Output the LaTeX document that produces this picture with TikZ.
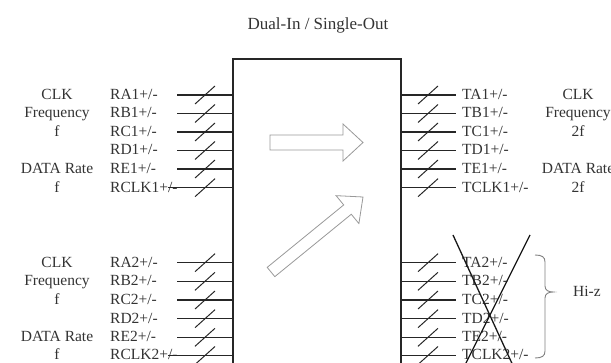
\documentclass[tikz,border=0pt]{standalone}
\usepackage{fontspec}
\setmainfont{Liberation Serif}
\begin{document}
\begin{tikzpicture}[x=1pt,y=-1pt,
  lbl/.style={font=\fontsize{15.5}{16}\selectfont, text=black!80, inner sep=0pt},
  wire/.style={draw=black!85, line width=1.4pt},
  tick/.style={draw=black!85, line width=1pt},
  blockarrow/.style={draw=black!40, line width=0.8pt, fill=white, line join=miter},
  crossline/.style={draw=black!90, line width=1.3pt},
  ]
\clip (0,0) rectangle (611,363);
\node[lbl, font=\fontsize{17}{18}\selectfont, anchor=base] (title) at (318,30) {Dual-In / Single-Out};
\node[draw=black!85, line width=1.6pt, anchor=north west, minimum width=168pt, minimum height=340pt, inner sep=0pt] (box) at (232,58) {};
% inputs and outputs
\foreach \n/\y/\sx in {A1/95/177, B1/113.5/177, C1/132/177, D1/150.5/177, E1/169/177, CLK1/187.7/168,
                       A2/262.7/177, B2/281.3/177, C2/300/177, D2/318.7/177, E2/337.3/177, CLK2/355.5/168}{
  \node[lbl, anchor=base west] (R\n) at (110,\y+4.5) {R\n+/-};
  \coordinate (rs\n) at (\sx,\y);
  \draw[wire] (rs\n) -- (rs\n -| box.west);
  \draw[tick] (195,\y+9) -- (215,\y-9);
  \node[lbl, anchor=base west] (T\n) at (462,\y+4.5) {T\n+/-};
  \coordinate (te\n) at (456,\y);
  \draw[wire] (te\n -| box.east) -- (te\n);
  \draw[tick] (418,\y+9) -- (438,\y-9);
}
% left descriptions
\foreach \k/\t/\y in {a/CLK/95, b/Frequency/113.5, c/f/132, d/DATA Rate/169, e/f/187.7,
                      f/CLK/262.7, g/Frequency/281.3, h/f/300, i/DATA Rate/337.3, j/f/355.5}{
  \node[lbl, anchor=base] (ld\k) at (57,\y+4.5) {\t};
}
\foreach \k/\t/\y in {a/CLK/95, b/Frequency/113.5, c/2f/132, d/DATA Rate/169, e/2f/187.7}{
  \node[lbl, anchor=base] (rd\k) at (578,\y+4.5) {\t};
}
% block arrows
\draw[blockarrow] (270,135) -- (343,135) -- (343,124) -- (363,142.5) -- (343,161) -- (343,150) -- (270,150) -- cycle;
\draw[blockarrow] (267.2,267.35) -- (343.7,204.95) -- (336.1,195.65) -- (363,197) -- (358.9,223.55) -- (351.3,214.25) -- (274.8,276.65) -- cycle;
% cross over outputs of group 2
\coordinate (xa1) at (453,235);
\coordinate (xa2) at (515,370);
\coordinate (xb1) at (530,235);
\coordinate (xb2) at (462.5,370);
\draw[crossline] (xa1) -- (xa2);
\draw[crossline] (xb1) -- (xb2);
% brace
\draw[draw=black!50, line width=0.9pt] (535,255) .. controls (542,255) and (545,257) .. (545,262) -- (545,286)
  .. controls (545,290) and (548,292) .. (553,292)
  .. controls (548,292) and (545,294) .. (545,298) -- (545,351)
  .. controls (545,356) and (542,358) .. (535,358);
\node[lbl, anchor=base west] (hiz) at (573,297) {Hi-z};
\end{tikzpicture}
\end{document}
